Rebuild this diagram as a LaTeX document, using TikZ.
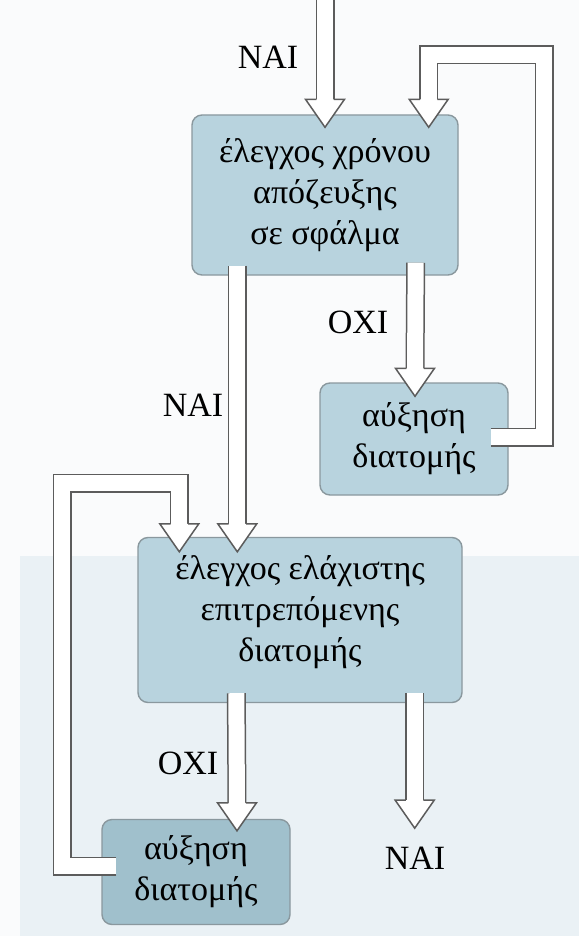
\documentclass[tikz,border=0pt]{standalone}
\usepackage{fontspec}
\setmainfont{Liberation Serif}
\usetikzlibrary{calc}
\definecolor{boxfill}{RGB}{184,211,222}
\definecolor{boxfilldark}{RGB}{160,192,204}
\definecolor{boxedge}{RGB}{138,152,158}
\definecolor{arrowedge}{RGB}{92,92,92}
\definecolor{bgtop}{RGB}{250,251,252}
\definecolor{bglow}{RGB}{234,241,245}
\newcommand{\hdown}[1]{%
  \fill[white, shift={(#1)}] (-8.75,-28) -- (-19.5,-28) -- (0,0) -- (19.5,-28) -- (8.75,-28) -- cycle;
  \draw[headtip, shift={(#1)}] (-8.75,-28) -- (-19.5,-28) -- (0,0) -- (19.5,-28) -- (8.75,-28);}
\begin{document}
\begin{tikzpicture}[x=1pt,y=-1pt,
  stepbox/.style={draw=boxedge, line width=1.4pt, fill=boxfill, rounded corners=10pt,
    align=center, font=\fontsize{34}{41}\selectfont, inner sep=0pt},
  shaft/.style={draw=arrowedge, line width=1.5pt, double=white, double distance=16pt,
    line cap=butt, line join=miter},
  headtip/.style={draw=arrowedge, line width=1.5pt, line join=miter},
  lbl/.style={font=\fontsize{34}{38}\selectfont, inner sep=0pt}]
\useasboundingbox (0,0) rectangle (579,936);
\fill[bgtop] (0,0) rectangle (579,936);
\fill[bglow] (20,556) rectangle (579,936);

% boxes
\node[stepbox, minimum width=266pt, minimum height=160pt] (b1) at (325,195)
  {έλεγχος χρόνου\\απόζευξης\\σε σφάλμα};
\node[stepbox, minimum width=188pt, minimum height=112pt] (b2) at (414,439)
  {αύξηση\\διατομής};
\node[stepbox, minimum width=324pt, minimum height=165pt] (b3) at (300,620)
  {έλεγχος ελάχιστης\\επιτρεπόμενης\\διατομής\\[-30pt]\strut};
\node[stepbox, fill=boxfilldark, minimum width=188pt, minimum height=105pt] (b4) at (196,872)
  {αύξηση\\διατομής};

% arrow coordinates
\coordinate (s1) at (325,-2);
\coordinate (t1) at ($(b1.north)+(0,13)$);
\coordinate (s2) at ($(b2.east)+(-18,-2)$);
\coordinate (r2) at (544,55);
\coordinate (t2) at ($(b1.north east)+(-30,13)$);
\coordinate (s3) at ($(b1.south west)+(46,-10)$);
\coordinate (t3) at ($(b3.north west)+(100,15)$);
\coordinate (s4) at ($(b1.south east)+(-43,-13)$);
\coordinate (t4) at ($(b2.north)+(1,14)$);
\coordinate (s5) at ($(b4.west)+(15,-6)$);
\coordinate (r5) at (62,483);
\coordinate (t5) at ($(b3.north west)+(42,15)$);
\coordinate (s6) at ($(b3.south west)+(99,-10)$);
\coordinate (t6) at ($(b4.north)+(41,12)$);
\coordinate (s7) at ($(b3.south east)+(-48,-10)$);
\coordinate (t7) at ($(s7)+(0,135)$);

% shafts
\draw[shaft] (s1) -- ($(t1)+(0,-26)$);
\draw[shaft] (s2) -| (r2) -| ($(t2)+(0,-26)$);
\draw[shaft] (s3) -- ($(t3)+(0,-26)$);
\draw[shaft] (s4) -- ($(t4)+(0,-26)$);
\draw[shaft] (s5) -| (r5) -| ($(t5)+(0,-26)$);
\draw[shaft] (s6) -- ($(t6)+(0,-26)$);
\draw[shaft] (s7) -- ($(t7)+(0,-26)$);
% heads
\hdown{t1}\hdown{t2}\hdown{t3}\hdown{t4}\hdown{t5}\hdown{t6}\hdown{t7}

% labels
\node[lbl] (l1) at (268,57) {ΝΑΙ};
\node[lbl] (l2) at (358,322) {ΟΧΙ};
\node[lbl] (l3) at (193,405) {ΝΑΙ};
\node[lbl] (l4) at (188,763) {ΟΧΙ};
\node[lbl] (l5) at (415,858) {ΝΑΙ};
\end{tikzpicture}
\end{document}
